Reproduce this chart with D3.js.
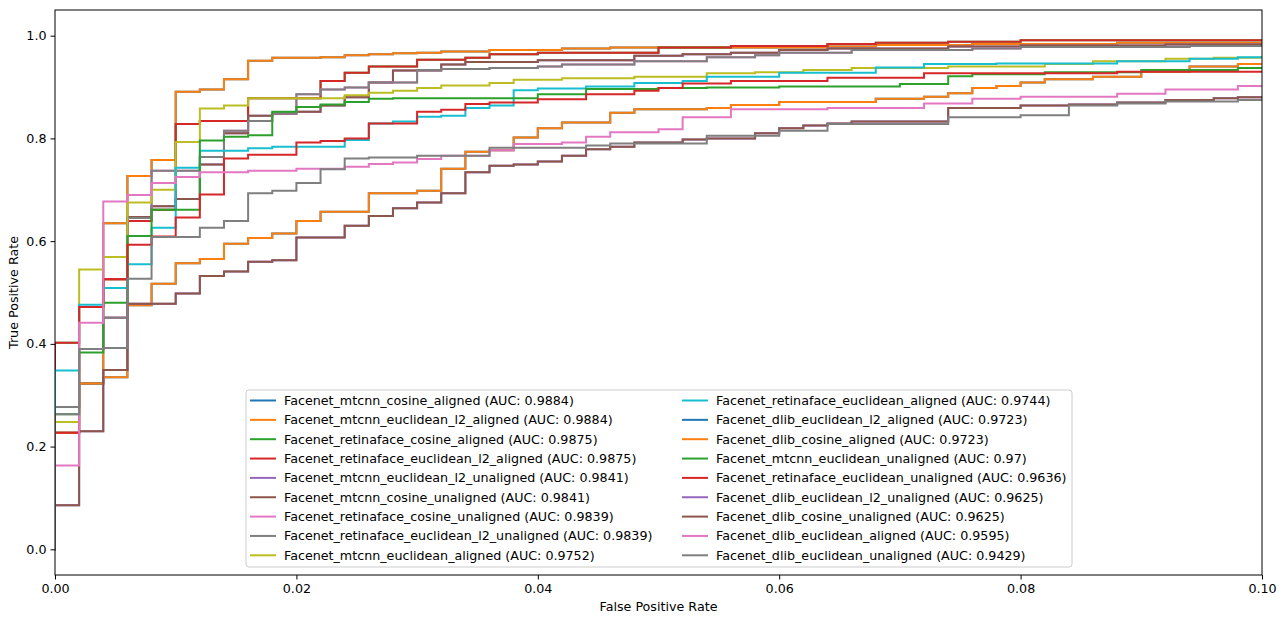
<!DOCTYPE html>
<html>
<head>
<meta charset="utf-8">
<script src="https://cdn.jsdelivr.net/npm/d3@7"></script>
<style>
  html, body { margin: 0; padding: 0; background: #fff; }
  svg { display: block; font-family: "DejaVu Sans", sans-serif; }
</style>
</head>
<body>
<svg id="roc" width="1288" height="617"></svg>
<script>
// ROC curves, as [false positive rate, true positive rate] steps.
const rocMtcnnAligned = [[0,0],[0,0.227],[0.002,0.323],[0.004,0.635],[0.006,0.727],[0.008,0.758],[0.010,0.891],[0.012,0.895],[0.014,0.915],[0.016,0.951],[0.018,0.957],[0.022,0.958],[0.024,0.962],[0.026,0.964],[0.028,0.966],[0.030,0.967],[0.032,0.969],[0.036,0.972],[0.042,0.975],[0.046,0.977],[0.064,0.979],[0.068,0.982],[0.076,0.984],[0.088,0.986],[0.1,0.986]];
const rocRetinaAligned = [[0,0],[0,0.402],[0.002,0.472],[0.004,0.526],[0.006,0.639],[0.008,0.661],[0.010,0.828],[0.012,0.834],[0.016,0.878],[0.022,0.912],[0.024,0.928],[0.026,0.940],[0.030,0.953],[0.034,0.957],[0.036,0.964],[0.040,0.967],[0.050,0.977],[0.056,0.980],[0.064,0.984],[0.068,0.986],[0.074,0.988],[0.080,0.991],[0.1,0.991]];
const rocMtcnnUnaligned = [[0,0],[0,0.277],[0.002,0.39],[0.004,0.451],[0.006,0.647],[0.008,0.668],[0.010,0.682],[0.012,0.749],[0.014,0.81],[0.016,0.844],[0.018,0.848],[0.020,0.852],[0.022,0.864],[0.024,0.88],[0.026,0.909],[0.028,0.932],[0.032,0.944],[0.034,0.949],[0.040,0.952],[0.048,0.961],[0.052,0.964],[0.056,0.967],[0.060,0.972],[0.064,0.975],[0.074,0.979],[0.080,0.981],[0.092,0.983],[0.1,0.983]];
const rocRetinaUnaligned = [[0,0],[0,0.277],[0.002,0.39],[0.004,0.451],[0.006,0.645],[0.008,0.737],[0.012,0.764],[0.014,0.815],[0.016,0.834],[0.018,0.849],[0.020,0.886],[0.022,0.895],[0.024,0.899],[0.026,0.909],[0.030,0.933],[0.032,0.935],[0.036,0.937],[0.040,0.94],[0.042,0.944],[0.048,0.950],[0.054,0.958],[0.058,0.962],[0.060,0.967],[0.066,0.972],[0.076,0.975],[0.080,0.978],[0.094,0.98],[0.1,0.98]];
const rocMtcnnEucAligned = [[0,0],[0,0.248],[0.002,0.545],[0.004,0.569],[0.006,0.675],[0.008,0.70],[0.010,0.793],[0.012,0.858],[0.014,0.864],[0.016,0.878],[0.024,0.884],[0.026,0.889],[0.028,0.893],[0.030,0.898],[0.032,0.903],[0.036,0.908],[0.038,0.914],[0.042,0.917],[0.048,0.92],[0.054,0.927],[0.058,0.929],[0.062,0.933],[0.066,0.937],[0.074,0.94],[0.082,0.945],[0.086,0.95],[0.092,0.955],[0.096,0.957],[0.1,0.957]];
const rocRetinaEucAligned = [[0,0],[0,0.348],[0.002,0.476],[0.004,0.509],[0.006,0.555],[0.008,0.626],[0.010,0.743],[0.012,0.776],[0.016,0.781],[0.018,0.784],[0.024,0.797],[0.026,0.829],[0.028,0.833],[0.030,0.842],[0.032,0.844],[0.034,0.859],[0.036,0.864],[0.038,0.894],[0.040,0.897],[0.044,0.901],[0.048,0.908],[0.052,0.912],[0.054,0.92],[0.060,0.928],[0.068,0.938],[0.072,0.945],[0.078,0.946],[0.088,0.95],[0.094,0.955],[0.098,0.958],[0.1,0.958]];
const rocDlibAligned = [[0,0],[0,0.227],[0.002,0.323],[0.004,0.335],[0.006,0.475],[0.008,0.517],[0.010,0.557],[0.012,0.565],[0.014,0.595],[0.016,0.606],[0.018,0.615],[0.020,0.639],[0.022,0.657],[0.026,0.693],[0.030,0.698],[0.032,0.741],[0.034,0.774],[0.036,0.777],[0.038,0.802],[0.040,0.82],[0.042,0.831],[0.046,0.85],[0.048,0.857],[0.054,0.859],[0.056,0.865],[0.060,0.871],[0.068,0.877],[0.072,0.881],[0.074,0.888],[0.076,0.898],[0.078,0.902],[0.080,0.909],[0.082,0.915],[0.086,0.92],[0.090,0.93],[0.094,0.94],[0.098,0.945],[0.1,0.945]];
const rocMtcnnEucUnaligned = [[0,0],[0,0.263],[0.002,0.383],[0.004,0.48],[0.006,0.61],[0.008,0.661],[0.012,0.796],[0.014,0.803],[0.016,0.806],[0.018,0.852],[0.020,0.861],[0.022,0.866],[0.024,0.871],[0.026,0.877],[0.028,0.878],[0.040,0.886],[0.044,0.896],[0.050,0.898],[0.054,0.899],[0.060,0.901],[0.070,0.906],[0.074,0.921],[0.076,0.925],[0.082,0.929],[0.090,0.933],[0.098,0.937],[0.1,0.937]];
const rocRetinaEucUnaligned = [[0,0],[0,0.227],[0.002,0.472],[0.004,0.526],[0.006,0.593],[0.008,0.609],[0.010,0.646],[0.012,0.691],[0.014,0.761],[0.016,0.768],[0.020,0.792],[0.022,0.795],[0.024,0.80],[0.026,0.829],[0.030,0.852],[0.032,0.856],[0.034,0.867],[0.036,0.87],[0.040,0.876],[0.044,0.886],[0.048,0.893],[0.050,0.898],[0.052,0.907],[0.056,0.912],[0.064,0.918],[0.072,0.927],[0.088,0.93],[0.1,0.93]];
const rocDlibUnaligned = [[0,0],[0,0.086],[0.002,0.23],[0.004,0.349],[0.006,0.478],[0.010,0.498],[0.012,0.532],[0.014,0.541],[0.016,0.56],[0.018,0.563],[0.020,0.607],[0.024,0.63],[0.026,0.649],[0.028,0.664],[0.030,0.675],[0.032,0.693],[0.034,0.734],[0.036,0.747],[0.038,0.749],[0.040,0.755],[0.042,0.766],[0.044,0.779],[0.046,0.784],[0.048,0.792],[0.052,0.798],[0.054,0.80],[0.058,0.81],[0.060,0.82],[0.062,0.825],[0.064,0.829],[0.066,0.833],[0.074,0.859],[0.080,0.864],[0.084,0.866],[0.088,0.87],[0.092,0.875],[0.096,0.878],[0.098,0.88],[0.1,0.88]];
const rocDlibEucAligned = [[0,0],[0,0.163],[0.002,0.441],[0.004,0.677],[0.006,0.69],[0.008,0.713],[0.010,0.725],[0.012,0.734],[0.016,0.737],[0.020,0.741],[0.024,0.745],[0.026,0.75],[0.028,0.753],[0.030,0.76],[0.032,0.766],[0.036,0.777],[0.038,0.789],[0.042,0.792],[0.044,0.803],[0.046,0.812],[0.050,0.818],[0.052,0.841],[0.056,0.857],[0.064,0.859],[0.072,0.868],[0.076,0.877],[0.080,0.881],[0.088,0.887],[0.092,0.895],[0.098,0.902],[0.1,0.902]];
const rocDlibEucUnaligned = [[0,0],[0,0.263],[0.002,0.39],[0.004,0.392],[0.006,0.527],[0.008,0.608],[0.012,0.626],[0.014,0.639],[0.016,0.693],[0.018,0.698],[0.020,0.713],[0.022,0.740],[0.024,0.761],[0.026,0.763],[0.030,0.766],[0.036,0.782],[0.044,0.786],[0.046,0.79],[0.054,0.805],[0.060,0.815],[0.064,0.828],[0.074,0.841],[0.080,0.845],[0.084,0.864],[0.088,0.868],[0.092,0.872],[0.098,0.875],[0.1,0.875]];

// legend order = drawing order (cosine and l2 variants give the same curve)
const seriesNames = [
  "Facenet_mtcnn_cosine_aligned", "Facenet_mtcnn_euclidean_l2_aligned",
  "Facenet_retinaface_cosine_aligned", "Facenet_retinaface_euclidean_l2_aligned",
  "Facenet_mtcnn_euclidean_l2_unaligned", "Facenet_mtcnn_cosine_unaligned",
  "Facenet_retinaface_cosine_unaligned", "Facenet_retinaface_euclidean_l2_unaligned",
  "Facenet_mtcnn_euclidean_aligned", "Facenet_retinaface_euclidean_aligned",
  "Facenet_dlib_euclidean_l2_aligned", "Facenet_dlib_cosine_aligned",
  "Facenet_mtcnn_euclidean_unaligned", "Facenet_retinaface_euclidean_unaligned",
  "Facenet_dlib_euclidean_l2_unaligned", "Facenet_dlib_cosine_unaligned",
  "Facenet_dlib_euclidean_aligned", "Facenet_dlib_euclidean_unaligned"
];
const seriesAuc = ["0.9884", "0.9884", "0.9875", "0.9875", "0.9841", "0.9841", "0.9839", "0.9839",
  "0.9752", "0.9744", "0.9723", "0.9723", "0.97", "0.9636", "0.9625", "0.9625", "0.9595", "0.9429"];
const seriesCurves = [
  rocMtcnnAligned, rocMtcnnAligned, rocRetinaAligned, rocRetinaAligned,
  rocMtcnnUnaligned, rocMtcnnUnaligned, rocRetinaUnaligned, rocRetinaUnaligned,
  rocMtcnnEucAligned, rocRetinaEucAligned, rocDlibAligned, rocDlibAligned,
  rocMtcnnEucUnaligned, rocRetinaEucUnaligned, rocDlibUnaligned, rocDlibUnaligned,
  rocDlibEucAligned, rocDlibEucUnaligned
];
const xTicks = [0, 0.02, 0.04, 0.06, 0.08, 0.10];
const yTicks = [0, 0.2, 0.4, 0.6, 0.8, 1.0];

(function () {
  const svg = d3.select("#roc");
  const L = 55, R = 1262, T = 10, B = 575;
  const FS = 12.7;
  const color = d3.scaleOrdinal(d3.schemeCategory10);

  const x = d3.scaleLinear().domain([0, 0.1]).range([L, R]);
  const y = d3.scaleLinear().domain([-0.05, 1.05]).range([B, T]);

  svg.append("defs").append("clipPath").attr("id", "plot-clip")
    .append("rect").attr("x", L).attr("y", T).attr("width", R - L).attr("height", B - T);

  const line = d3.line()
    .x(d => x(d[0])).y(d => y(d[1]))
    .curve(d3.curveStepAfter);

  const gLines = svg.append("g").attr("clip-path", "url(#plot-clip)");
  seriesCurves.forEach((c, i) => {
    gLines.append("path")
      .attr("d", line(c))
      .attr("fill", "none")
      .attr("stroke", color(i % 10))
      .attr("stroke-width", 2)
      .attr("stroke-linejoin", "miter")
      .attr("stroke-linecap", "square");
  });

  // axes
  const xAxis = d3.axisBottom(x).tickValues(xTicks).tickFormat(d3.format(".2f")).tickSizeOuter(0).tickSize(4.5).tickPadding(4);
  const yAxis = d3.axisLeft(y).tickValues(yTicks).tickFormat(d3.format(".1f")).tickSizeOuter(0).tickSize(4.5).tickPadding(4);
  const gx = svg.append("g").attr("transform", `translate(0,${B})`).call(xAxis);
  const gy = svg.append("g").attr("transform", `translate(${L},0)`).call(yAxis);
  [gx, gy].forEach(g => {
    g.select(".domain").remove();
    g.selectAll("line").attr("stroke", "#000").attr("stroke-width", 1);
    g.selectAll("text").attr("fill", "#000").attr("font-size", FS).attr("font-family", "DejaVu Sans");
  });

  svg.append("rect")
    .attr("x", L).attr("y", T).attr("width", R - L).attr("height", B - T)
    .attr("fill", "none").attr("stroke", "#000").attr("stroke-width", 1);

  svg.append("text")
    .attr("x", (L + R) / 2).attr("y", 611)
    .attr("text-anchor", "middle").attr("font-size", FS)
    .text("False Positive Rate");
  svg.append("text")
    .attr("transform", `translate(18,${(T + B) / 2}) rotate(-90)`)
    .attr("text-anchor", "middle").attr("font-size", FS)
    .text("True Positive Rate");

  // legend, two columns of nine
  const lgX = 246, lgY = 390, lgW = 826, lgH = 177;
  const lg = svg.append("g");
  lg.append("rect")
    .attr("x", lgX).attr("y", lgY).attr("width", lgW).attr("height", lgH)
    .attr("rx", 3).attr("fill", "#fff").attr("fill-opacity", 0.8)
    .attr("stroke", "#cccccc").attr("stroke-width", 1);
  seriesNames.forEach((name, i) => {
    const col = Math.floor(i / 9), row = i % 9;
    const hx = col === 0 ? 250 : 682;
    const cy = 400.5 + row * 19.35;
    lg.append("line")
      .attr("x1", hx).attr("x2", hx + 26).attr("y1", cy).attr("y2", cy)
      .attr("stroke", color(i % 10)).attr("stroke-width", 2);
    lg.append("text")
      .attr("x", hx + 34).attr("y", cy + 4.5)
      .attr("font-size", FS).attr("fill", "#000")
      .text(`${name} (AUC: ${seriesAuc[i]})`);
  });
})();
</script>
</body>
</html>
